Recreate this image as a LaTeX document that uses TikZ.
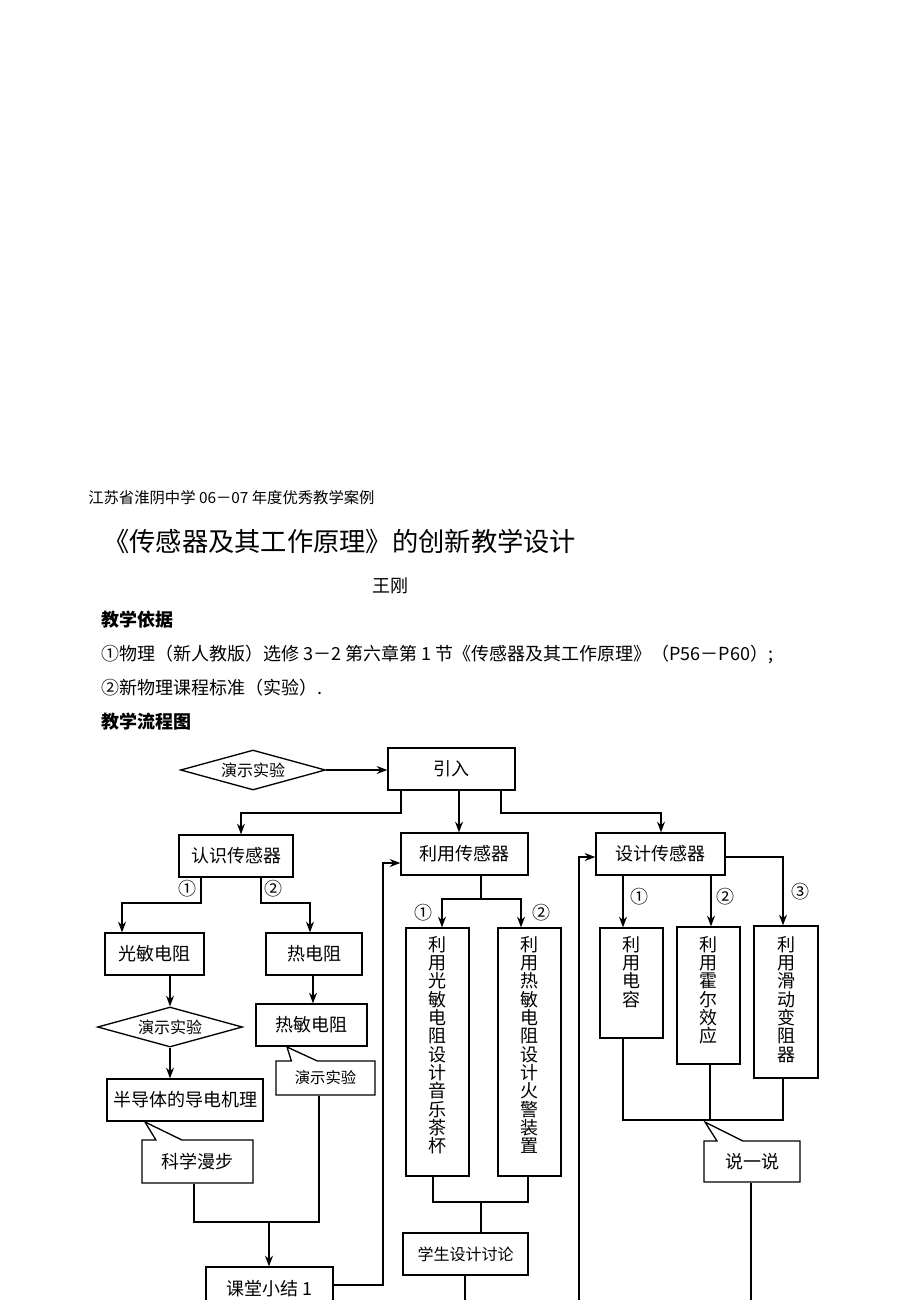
\documentclass[tikz,border=0pt]{standalone}
\usepackage{fontspec}
\setmainfont{Noto Sans CJK SC}
\usetikzlibrary{shapes.geometric,shapes.callouts,arrows.meta}
\newcommand\mybox[6]{\node[box,minimum width={(#4-#2)*0.75pt},minimum height={(#5-#3)*0.75pt}] (#1) at ({(#2+#4)/2},{(#3+#5)/2}) {#6};}
\newcommand\mycall[8]{\node[callbox,minimum width={(#4-#2)*0.75pt},minimum height={(#5-#3)*0.75pt},callout absolute pointer={(#6,#7)}] (#1) at ({(#2+#4)/2},{(#3+#5)/2}) {#8};}
\begin{document}
\begin{tikzpicture}[x=0.75pt,y=-0.75pt,
  box/.style={draw,line width=1pt,inner sep=0pt,font=\fontsize{13.5}{16}\selectfont},
  callbox/.style={rectangle callout,draw,line width=1pt,inner sep=0pt,callout pointer width=19.5pt,font=\fontsize{13.5}{16}\selectfont},
  dia/.style={diamond,draw,line width=1pt,inner sep=0pt,aspect=3.6,minimum width=108.75pt,minimum height=30pt,font=\fontsize{12}{14}\selectfont},
  vtext/.style={anchor=north,align=center,inner sep=0pt,font=\fontsize{13.5}{13.75}\selectfont},
  ln/.style={line width=1pt},
  arr/.style={line width=1pt,-{Stealth[length=8pt,width=6pt]}},
  num/.style={inner sep=0pt,font=\fontsize{13.5}{15}\selectfont},
  txt/.style={anchor=west,inner sep=0pt,font=\fontsize{13.5}{16}\selectfont}]
\fill[white] (0,0) rectangle (920,1300);
\clip (0,0) rectangle (920,1300);
% texts
\node[anchor=west,inner sep=0pt,font=\fontsize{11.5}{14}\selectfont] (hdr) at (88,498) {江苏省淮阴中学 06－07 年度优秀教学案例};
\node[anchor=west,inner sep=0pt,font=\fontsize{19.7}{22}\selectfont] (title) at (103,541) {《传感器及其工作原理》的创新教学设计};
\node[inner sep=0pt,font=\fontsize{13.5}{16}\selectfont] (author) at (390,586) {王刚};
\node[txt,font=\fontsize{13.5}{16}\selectfont\bfseries] (basis) at (101,620) {教学依据};
\node[txt] (line1) at (101,654) {①物理（新人教版）选修 3－2 第六章第 1 节《传感器及其工作原理》（P56－P60）;};
\node[txt] (line2) at (101,688) {②新物理课程标准（实验）.};
\node[txt,font=\fontsize{13.5}{16}\selectfont\bfseries] (flow) at (101,722) {教学流程图};
% nodes
\node[dia] (d1) at (253,770) {演示实验};
\mybox{yinru}{388}{748}{515}{790}{引入}
\mybox{renshi}{179}{835}{293}{877}{认识传感器}
\mybox{liyong}{401}{833}{528}{875}{利用传感器}
\mybox{sheji}{596}{833}{725}{875}{设计传感器}
\mybox{guangmin}{105}{933}{204}{975}{光敏电阻}
\mybox{redianzu}{266}{933}{362}{975}{热电阻}
\node[dia] (d2) at (170,1027) {演示实验};
\mybox{bandaoti}{107}{1079}{263}{1121}{半导体的导电机理}
\mybox{remin}{256}{1004}{367}{1046}{热敏电阻}
\mycall{c1}{276}{1061}{375}{1095}{287}{1047}{\fontsize{11.5}{14}\selectfont 演示实验}
\mycall{c2}{142}{1140}{253}{1183}{145}{1122}{科学漫步}
\mybox{xiaojie}{206}{1267}{333}{1310}{课堂小结 1}
\mybox{t1}{406}{928}{469}{1176}{}
\mybox{t2}{498}{928}{561}{1176}{}
\node[vtext] (t1txt) at (437.5,936) {利\\用\\光\\敏\\电\\阻\\设\\计\\音\\乐\\茶\\杯};
\node[vtext] (t2txt) at (529.5,936) {利\\用\\热\\敏\\电\\阻\\设\\计\\火\\警\\装\\置};
\mybox{taolun}{403}{1233}{528}{1275}{\fontsize{12}{14}\selectfont 学生设计讨论}
\mybox{s1}{600}{928}{663}{1038}{}
\mybox{s2}{677}{927}{740}{1064}{}
\mybox{s3}{754}{926}{818}{1078}{}
\node[vtext] (s1txt) at (631.5,936) {利\\用\\电\\容};
\node[vtext] (s2txt) at (708.5,936) {利\\用\\霍\\尔\\效\\应};
\node[vtext] (s3txt) at (786,936) {利\\用\\滑\\动\\变\\阻\\器};
\mycall{c3}{704}{1141}{800}{1182}{705}{1122}{说一说}
% labels
\node[num] (n11) at (187,889) {①};
\node[num] (n12) at (273,889) {②};
\node[num] (n21) at (423,913) {①};
\node[num] (n22) at (541,913) {②};
\node[num] (n31) at (639,897) {①};
\node[num] (n32) at (725,897) {②};
\node[num] (n33) at (800,892) {③};
% coordinates
\coordinate (a1) at (401,813); \coordinate (a2) at (241,813);
\coordinate (a3) at (459,813);
\coordinate (a4) at (501,813); \coordinate (a5) at (661,813);
\coordinate (b1) at (201,903); \coordinate (b2) at (122,903);
\coordinate (b3) at (261,903); \coordinate (b4) at (310,903);
\coordinate (e1) at (194,1222); \coordinate (e2) at (319,1222); \coordinate (e3) at (269,1222);
\coordinate (f1) at (383,1285); \coordinate (f2) at (383,863);
\coordinate (g1) at (481,899); \coordinate (g2) at (442,899); \coordinate (g3) at (521,899);
\coordinate (h1) at (433,1202); \coordinate (h2) at (528,1202); \coordinate (h3) at (481,1202);
\coordinate (k1) at (465,1300);
\coordinate (m1) at (579,1300); \coordinate (m2) at (579,857);
\coordinate (n1) at (623,900); \coordinate (n2) at (711,900); \coordinate (n3) at (783,857);
\coordinate (p1) at (623,1120); \coordinate (p2) at (710,1120); \coordinate (p3) at (783,1120);
\coordinate (q1) at (751,1300);
% connectors
\draw[arr] (d1.east) -- (yinru.west |- d1.east);
\draw[arr] (yinru.south -| a1) |- (a2) -- (a2 |- renshi.north);
\draw[arr] (yinru.south -| a3) -- (a3 |- liyong.north);
\draw[arr] (yinru.south -| a4) |- (a5) -- (a5 |- sheji.north);
\draw[arr] (renshi.south -| b1) |- (b2) -- (b2 |- guangmin.north);
\draw[arr] (renshi.south -| b3) |- (b4) -- (b4 |- redianzu.north);
\draw[arr] (guangmin.south -| d2.north) -- (d2.north);
\draw[arr] (d2.south) -- (d2.south |- bandaoti.north);
\draw[arr] ([xshift=-0.75pt]redianzu.south) -- ([xshift=-0.75pt]redianzu.south |- remin.north);
\draw[ln] (c2.south -| e1) -- (e1) -- (e2) -- (e2 |- c1.south);
\draw[arr] (e3) -- (e3 |- xiaojie.north);
\draw[arr] (xiaojie.east |- f1) -- (f1) -- (f2) -- (f2 -| liyong.west);
\draw[ln] (liyong.south -| g1) -- (g1);
\draw[arr] (g1) -- (g2) -- (g2 |- t1.north);
\draw[arr] (g1) -- (g3) -- (g3 |- t2.north);
\draw[ln] (t1.south -| h1) -- (h1) -- (h2) -- (h2 |- t2.south);
\draw[ln] (h3) -- (h3 |- taolun.north);
\draw[ln] (taolun.south -| k1) -- (k1);
\draw[arr] (m1) -- (m2) -- (m2 -| sheji.west);
\draw[arr] (sheji.south -| n1) -- (n1 |- s1.north);
\draw[arr] (sheji.south -| n2) -- (n2 |- s2.north);
\draw[arr] (sheji.east |- n3) -- (n3) -- (n3 |- s3.north);
\draw[ln] (s1.south -| p1) -- (p1) -- (p3) -- (p3 |- s3.south);
\draw[ln] (s2.south -| p2) -- (p2);
\draw[ln] (c3.south -| q1) -- (q1);
\end{tikzpicture}
\end{document}
